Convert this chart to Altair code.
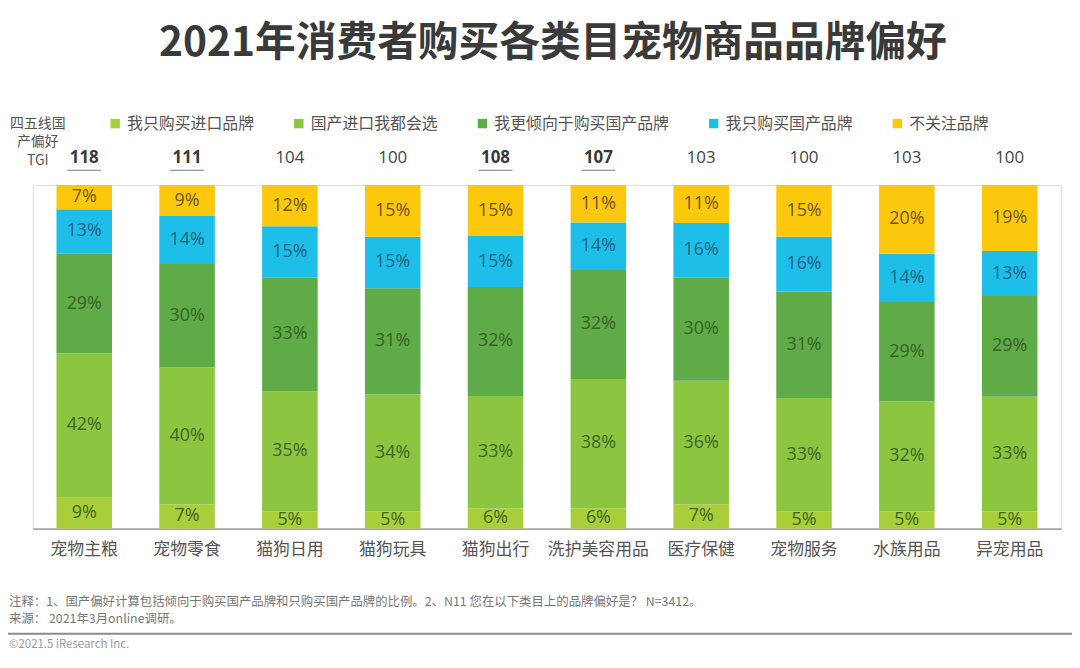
import altair as alt
import pandas as pd

categories = ["宠物主粮", "宠物零食", "猫狗日用", "猫狗玩具", "猫狗出行",
              "洗护美容用品", "医疗保健", "宠物服务", "水族用品", "异宠用品"]
series = ["我只购买进口品牌", "国产进口我都会选", "我更倾向于购买国产品牌", "我只购买国产品牌", "不关注品牌"]
only_import = [9, 7, 5, 5, 6, 6, 7, 5, 5, 5]
both = [42, 40, 35, 34, 33, 38, 36, 33, 32, 33]
prefer_domestic = [29, 30, 33, 31, 32, 32, 30, 31, 29, 29]
only_domestic = [13, 14, 15, 15, 15, 14, 16, 16, 14, 13]
no_care = [7, 9, 12, 15, 15, 11, 11, 15, 20, 19]
tgi = [118, 111, 104, 100, 108, 107, 103, 100, 103, 100]
tgi_bold = [True, True, False, False, True, True, False, False, False, False]

colors = ["#a8cf3a", "#8cc640", "#5eab47", "#1dbfe9", "#fcc80e"]
label_colors = ["#3f6526", "#3f6526", "#3b6128", "#23627e", "#6e5612"]

FONT = "Noto Sans CJK SC"

rows = []
values_by_series = [only_import, both, prefer_domestic, only_domestic, no_care]
for ci, cat in enumerate(categories):
    vals = [v[ci] for v in values_by_series]
    total = sum(vals)
    cum = 0
    for si, s in enumerate(series):
        v = vals[si]
        rows.append({
            "cat": cat, "series": s, "order": si, "value": v,
            "y0": cum / total, "y1": (cum + v) / total,
            "mid": (cum + v / 2) / total, "label": f"{v}%",
            "tcolor": label_colors[si],
        })
        cum += v
df = pd.DataFrame(rows)

tgi_df = pd.DataFrame({"cat": categories, "tgi": [str(t) for t in tgi], "bold": tgi_bold})

xenc = alt.X("cat:N", sort=categories,
             scale=alt.Scale(paddingInner=0.46, paddingOuter=0.23),
             axis=alt.Axis(title=None, labelAngle=0, labelFontSize=17, labelColor="#555555",
                           labelFont=FONT, ticks=False, domainColor="#8a8a8a", domainWidth=1.2,
                           labelPadding=13))
yscale = alt.Scale(domain=[0, 1])

bars = alt.Chart(df).mark_bar().encode(
    x=xenc,
    y=alt.Y("y0:Q", scale=yscale, axis=None),
    y2="y1:Q",
    color=alt.Color("series:N", sort=series,
                    scale=alt.Scale(domain=series, range=colors),
                    legend=alt.Legend(title=None, orient="none", direction="horizontal",
                                      legendX=75, legendY=-70, symbolType="square",
                                      symbolSize=90, symbolStrokeWidth=0, labelFont=FONT,
                                      labelFontSize=16, labelColor="#555555", labelOffset=4,
                                      labelLimit=400, columnPadding=36)),
    order="order:Q",
)

labels = alt.Chart(df).mark_text(font="Open Sans", fontSize=18, baseline="middle").encode(
    x=alt.X("cat:N", sort=categories),
    y=alt.Y("mid:Q", scale=yscale),
    text="label:N",
    color=alt.Color("tcolor:N", scale=None),
)

tgi_reg = alt.Chart(tgi_df).transform_filter("!datum.bold").mark_text(
    font="Open Sans", fontSize=17, color="#444444", baseline="middle"
).encode(x=alt.X("cat:N", sort=categories), y=alt.value(-27), text="tgi:N")

tgi_b = alt.Chart(tgi_df).transform_filter("datum.bold").mark_text(
    font="Open Sans", fontSize=17, fontWeight="bold", color="#3a3a3a", baseline="middle"
).encode(x=alt.X("cat:N", sort=categories), y=alt.value(-27), text="tgi:N")

tgi_line = alt.Chart(tgi_df).transform_filter("datum.bold").mark_tick(
    orient="horizontal", size=34, thickness=1.2, color="#444444"
).encode(x=alt.X("cat:N", sort=categories), y=alt.value(-15))

one = pd.DataFrame({"a": [0]})

def note(text, x, y, size, color, align="left", weight="normal", font=FONT):
    return alt.Chart(one).mark_text(text=text, fontSize=size, color=color, align=align,
                                    baseline="middle", fontWeight=weight, font=font).encode(
        x=alt.value(x), y=alt.value(y))

title = note("2021年消费者购买各类目宠物商品品牌偏好", 524, -142, 41, "#3a3a3a",
             align="center", weight="bold")
side1 = note("四五线国", 5, -62, 14, "#555555", align="center")
side2 = note("产偏好", 5, -43, 14, "#555555", align="center")
side3 = note("TGI", 5, -24, 14, "#555555", align="center")
foot1 = note("注释：1、国产偏好计算包括倾向于购买国产品牌和只购买国产品牌的比例。2、N11 您在以下类目上的品牌偏好是？ N=3412。",
             -24, 420, 12.5, "#777777")
foot2 = note("来源： 2021年3月online调研。", -24, 437, 12.5, "#777777")
copy = note("©2021.5 iResearch Inc.", -24, 463, 11.5, "#999999")
sep = alt.Chart(one).mark_rule(color="#8a8a8a", strokeWidth=2).encode(
    x=alt.value(-25), x2=alt.value(1047), y=alt.value(452))

chart = alt.layer(
    bars, labels, tgi_reg, tgi_b, tgi_line, title, side1, side2, side3,
    foot1, foot2, copy, sep
).properties(
    width=1036, height=346,
    autosize=alt.AutoSizeParams(type="none"),
    padding={"left": 25, "top": 176, "right": 11, "bottom": 130},
).configure_view(stroke=None).configure(font=FONT)

chart.save("out.html", embed_options={"renderer": "svg", "actions": False})
